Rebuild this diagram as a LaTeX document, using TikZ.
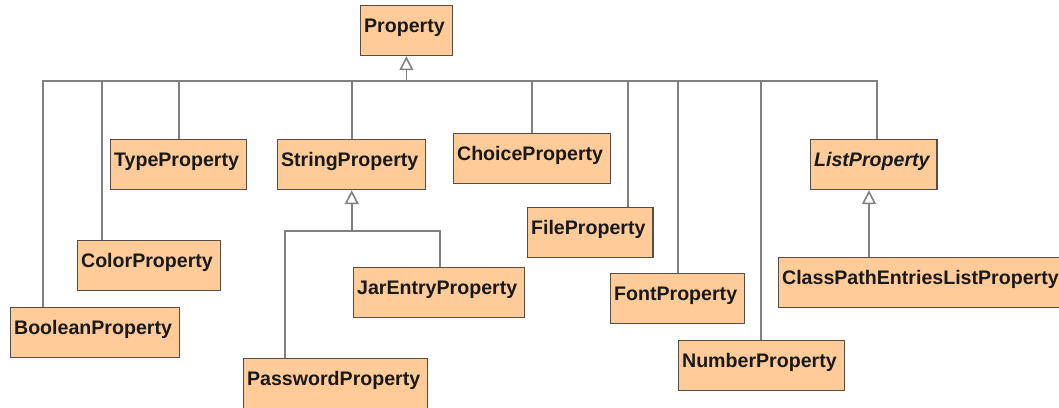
\documentclass[tikz,border=0pt]{standalone}
\usepackage{fontspec}
\setmainfont{Liberation Sans}
\usetikzlibrary{arrows.meta}

\definecolor{classfill}{RGB}{255,204,153}
\definecolor{classline}{RGB}{88,76,68}
\definecolor{linkgray}{RGB}{128,128,128}

\begin{document}
\begin{tikzpicture}[x=0.5pt, y=-0.5pt,
    class/.style={draw=classline, fill=classfill, line width=0.6pt, anchor=north west,
        inner xsep=1.75pt, inner ysep=0pt, text height=13.5pt, text depth=11.5pt,
        font=\fontsize{9.8}{12}\bfseries, text=black!90,
        execute at end node=\hspace{2pt}},
    tree/.style={draw=linkgray, line width=0.8pt},
    extends/.style={tree, -{Triangle[open, length=7pt, width=7pt]}}]

    \useasboundingbox (0,0) rectangle (1059,407);

    % Classes {Property, its subclasses, and theirs}
    \node [class]               (prop)    at (360,5)    {Property};
    \node [class]               (bool)    at (10,307)   {BooleanProperty};
    \node [class]               (color)   at (77,240)   {ColorProperty};
    \node [class]               (type)    at (110,139)  {TypeProperty};
    \node [class]               (string)  at (277,139)  {StringProperty};
    \node [class]               (choice)  at (453,133)  {ChoiceProperty};
    \node [class]               (file)    at (527,207)  {FileProperty};
    \node [class]               (font)    at (610,273)  {FontProperty};
    \node [class]               (number)  at (678,340)  {NumberProperty};
    \node [class, font=\fontsize{9.8}{12}\bfseries\itshape] (list) at (810,139) {ListProperty};
    \node [class]               (jar)     at (353,267)  {JarEntryProperty};
    \node [class]               (passwd)  at (243,358)  {PasswordProperty};
    \node [class]               (cpel)    at (778,257)  {ClassPathEntriesListProperty};

    % Feet of the inheritance trees
    \path (prop.south)   ++(0,25) coordinate (propBus);
    \path (string.south) ++(0,41) coordinate (stringBus);

    % Generalizations to Property
    \draw [extends] (propBus) -- (prop.south);
    \draw [tree] ([xshift=16.5pt]bool.north west)  |- (propBus);
    \draw [tree] ([xshift=12.5pt]color.north west) |- (propBus);
    \draw [tree] ([xshift=34.5pt]type.north west)  |- (propBus);
    \draw [tree] ([xshift=37.5pt]string.north west) |- (propBus);
    \draw [tree] ([xshift=39.5pt]choice.north west) |- (propBus);
    \draw [tree] ([xshift=50.5pt]file.north west)  |- (propBus);
    \draw [tree] ([xshift=34pt]font.north west)    |- (propBus);
    \draw [tree] ([xshift=41.5pt]number.north west) |- (propBus);
    \draw [tree] ([xshift=33.5pt]list.north west)  |- (propBus);

    % Generalizations to StringProperty
    \draw [extends] (stringBus) -- (string.south);
    \draw [tree] ([xshift=21pt]passwd.north west) |- (stringBus);
    \draw [tree] ([xshift=43.5pt]jar.north west)  |- (stringBus);

    % Generalization to ListProperty
    \draw [extends] ([xshift=45.5pt]cpel.north west) coordinate (cpelTop)
        -- (cpelTop |- list.south);

\end{tikzpicture}
\end{document}
